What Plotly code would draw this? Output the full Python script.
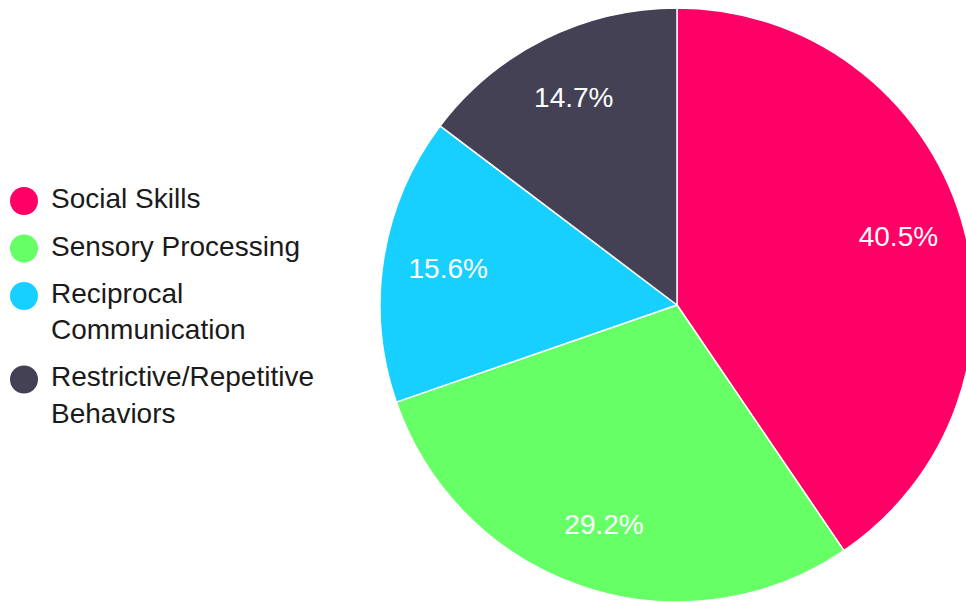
import plotly.graph_objects as go

# ---- data ----
categories = ["Social Skills", "Sensory Processing", "Reciprocal Communication",
              "Restrictive/Repetitive Behaviors"]
legend_labels = ["Social Skills", "Sensory Processing", "Reciprocal<br>Communication",
                 "Restrictive/Repetitive<br>Behaviors"]
values = [40.5, 29.2, 15.6, 14.7]
colors = ["#FF0066", "#66FF66", "#18D0FF", "#444155"]

# ---- layout constants ----
W, H = 990, 602
FONT = "Liberation Sans, Arial, sans-serif"
LINE_H = 36
ITEM_GAP = 47.5
FIRST_ROW = 201
PIE_DOMAIN = dict(x=[380 / W, 974 / W], y=[0, 594 / H])

fig = go.Figure()
# filled slices
fig.add_trace(go.Pie(
    labels=categories, values=values, sort=False, direction="clockwise", rotation=0,
    marker=dict(colors=colors, line=dict(color="white", width=1.5)),
    textinfo="none", domain=PIE_DOMAIN,
    showlegend=False, hoverinfo="label+percent",
))
# transparent ring carrying the percentage labels further out
fig.add_trace(go.Pie(
    labels=categories, values=values, sort=False, direction="clockwise", rotation=0,
    hole=0.56,
    marker=dict(colors=["rgba(0,0,0,0)"] * len(values), line=dict(width=0)),
    texttemplate="%{percent:.1%}", textposition="inside",
    insidetextorientation="horizontal",
    textfont=dict(family=FONT, size=28, color="white"),
    domain=PIE_DOMAIN, showlegend=False, hoverinfo="skip",
))

# custom legend with large circular markers
row_y, text_y = [], []
y = FIRST_ROW
for lab in legend_labels:
    n = lab.count("<br>")
    row_y.append(y)
    text_y.append(y + n * LINE_H / 2)
    y += n * LINE_H + ITEM_GAP

fig.add_trace(go.Scatter(
    x=[24] * len(categories), y=row_y, mode="markers",
    marker=dict(size=28, color=colors, line=dict(width=0)),
    showlegend=False, hoverinfo="skip",
))
fig.add_trace(go.Scatter(
    x=[51] * len(categories), y=text_y, mode="text", text=legend_labels,
    textposition="middle right",
    textfont=dict(family=FONT, size=28, color="#1a1a1a"),
    showlegend=False, hoverinfo="skip",
))

fig.update_layout(
    width=W, height=H, margin=dict(l=0, r=0, t=0, b=0),
    paper_bgcolor="white", plot_bgcolor="white",
    xaxis=dict(range=[0, W], visible=False, fixedrange=True),
    yaxis=dict(range=[H, 0], visible=False, fixedrange=True),
    font=dict(family=FONT),
)

fig.write_html("out.html", config={"displayModeBar": False},
               post_script="document.body.style.margin='0';document.body.style.overflow='hidden';")
